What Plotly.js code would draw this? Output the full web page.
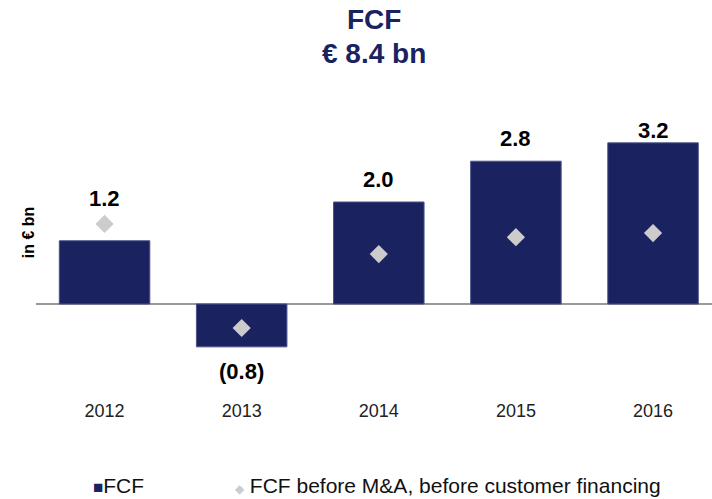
<!DOCTYPE html>
<html><head><meta charset="utf-8">
<script src="https://cdn.plot.ly/plotly-3.0.1.min.js"></script>
<style>body{margin:0;background:#fff}#chart{width:712px;height:499px}</style>
</head><body><div id="chart"></div>
<script>
var years = ['2012', '2013', '2014', '2015', '2016'];
var fcf = [1.24, -0.84, 2.0, 2.8, 3.16];
var fcfLabels = ['1.2', '(0.8)', '2.0', '2.8', '3.2'];
var fcfBeforeMA = [1.57, -0.47, 0.98, 1.31, 1.39];

var navy = '#1a2260';
var FONT = 'Liberation Sans, Arial, sans-serif';
var labelOffsets = [0.82, -0.49, 0.45, 0.45, 0.25];

var traces = [
  {type: 'bar', x: years, y: fcf, name: 'FCF', width: 0.66,
   marker: {color: navy, line: {color: '#4a5288', width: 1}},
   hoverinfo: 'x+y', showlegend: false},
  {type: 'scatter', mode: 'markers', x: years, y: fcfBeforeMA,
   name: 'FCF before M&A, before customer financing',
   marker: {symbol: 'diamond', color: '#cccccc', size: 14},
   showlegend: false, cliponaxis: false}
];

var annotations = years.map(function (yr, i) {
  return {x: i, y: fcf[i] + labelOffsets[i], xref: 'x', yref: 'y', yanchor: 'middle',
    text: '<b>' + fcfLabels[i] + '</b>', showarrow: false,
    font: {family: FONT, size: 22, color: '#000'}};
});
annotations.push({xref: 'paper', yref: 'paper', x: -0.027, y: 0.597, textangle: -90,
  text: '<b>in € bn</b>', showarrow: false,
  font: {family: FONT, size: 16, color: '#000'}});
annotations.push({xref: 'paper', yref: 'paper', x: 0.5, y: 1.360, yanchor: 'middle',
  text: '<b>FCF</b>', showarrow: false,
  font: {family: FONT, size: 28, color: navy}});
annotations.push({xref: 'paper', yref: 'paper', x: 0.5, y: 1.241, yanchor: 'middle',
  text: '<b>€ 8.4 bn</b>', showarrow: false,
  font: {family: FONT, size: 28, color: navy}});
annotations.push({xref: 'paper', yref: 'paper', x: 0.082, y: -0.313, xanchor: 'left', yanchor: 'middle',
  text: '<span style="color:' + navy + ';font-size:17px">■</span>' + traces[0].name, showarrow: false,
  font: {family: FONT, size: 21, color: '#111'}});
annotations.push({xref: 'paper', yref: 'paper', x: 0.292, y: -0.313, xanchor: 'left', yanchor: 'middle',
  text: '<span style="color:#cccccc;font-size:12px">◆</span> ' + traces[1].name, showarrow: false,
  font: {family: FONT, size: 21, color: '#111'}});

var layout = {
  width: 712, height: 499,
  margin: {l: 36, r: 0, t: 120, b: 101},
  paper_bgcolor: '#fff', plot_bgcolor: '#fff',
  showlegend: false,
  xaxis: {type: 'category', range: [-0.5, 4.43], showgrid: false, showline: false,
    ticks: '', ticklen: 0,
    tickfont: {family: FONT, size: 18, color: '#222'}},
  yaxis: {range: [-1.843, 3.608], showgrid: false, showticklabels: false,
    zeroline: true, zerolinecolor: '#999', zerolinewidth: 2, showline: false},
  annotations: annotations
};

Plotly.newPlot('chart', traces, layout, {displayModeBar: false, staticPlot: true});
</script></body></html>
